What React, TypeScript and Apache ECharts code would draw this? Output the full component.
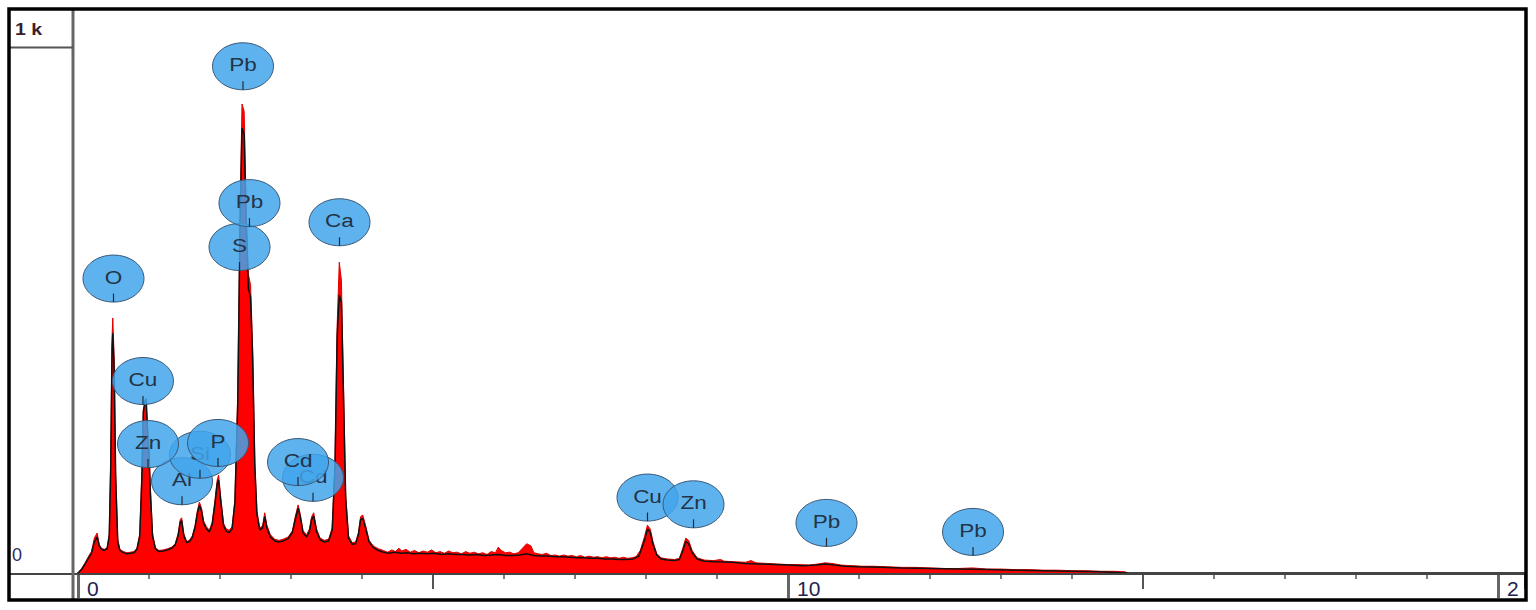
import React, { useEffect, useRef } from "react";
import * as echarts from "echarts";

// Spectrum (energy keV, counts) – red filled spectrum
const spectrum: number[][] = [
  [0.00,0],[0.05,8],[0.10,18],[0.15,30],[0.19,38],[0.23,62],[0.27,71],[0.30,50],[0.33,44],[0.37,42],[0.41,45],[0.44,70],[0.46,200],[0.48,420],[0.49,453],[0.51,380],[0.53,180],[0.56,60],[0.59,42],[0.64,38],[0.69,36],[0.74,37],[0.79,38],[0.83,44],[0.87,70],[0.90,180],[0.92,290],[0.94,298],[0.96,300],[0.98,260],[1.00,220],[1.02,150],[1.05,70],[1.09,45],[1.14,40],[1.20,41],[1.26,43],[1.32,46],[1.37,52],[1.41,70],[1.44,95],[1.46,98],[1.49,70],[1.53,56],[1.57,58],[1.61,66],[1.65,85],[1.68,110],[1.71,126],[1.74,115],[1.77,92],[1.81,82],[1.85,76],[1.89,90],[1.93,130],[1.96,165],[1.98,174],[2.01,135],[2.05,88],[2.09,78],[2.13,76],[2.17,82],[2.21,130],[2.25,320],[2.28,620],[2.31,833],[2.34,820],[2.37,640],[2.40,530],[2.43,512],[2.46,400],[2.49,200],[2.52,110],[2.56,80],[2.60,84],[2.63,107],[2.66,85],[2.71,68],[2.77,60],[2.83,58],[2.89,60],[2.96,64],[3.02,75],[3.06,100],[3.10,121],[3.13,105],[3.17,75],[3.22,68],[3.26,78],[3.29,100],[3.32,107],[3.36,78],[3.41,62],[3.47,58],[3.53,60],[3.58,80],[3.62,200],[3.65,440],[3.68,552],[3.71,520],[3.74,330],[3.77,140],[3.81,66],[3.86,54],[3.91,55],[3.95,72],[3.98,100],[4.01,103],[4.05,85],[4.10,58],[4.16,48],[4.23,43],[4.30,40],[4.36,37],[4.42,41],[4.47,38],[4.52,44],[4.56,39],[4.62,42],[4.68,37],[4.74,40],[4.80,36],[4.86,39],[4.92,37],[4.98,41],[5.04,36],[5.10,38],[5.16,35],[5.22,39],[5.28,36],[5.34,37],[5.40,34],[5.46,38],[5.52,35],[5.58,37],[5.64,34],[5.70,36],[5.76,33],[5.82,38],[5.88,36],[5.92,46],[5.96,40],[6.02,36],[6.08,37],[6.14,34],[6.20,36],[6.26,44],[6.32,52],[6.38,48],[6.42,36],[6.48,34],[6.54,33],[6.60,35],[6.66,31],[6.72,32],[6.78,30],[6.84,32],[6.90,30],[6.96,31],[7.02,29],[7.08,31],[7.14,28],[7.20,30],[7.26,28],[7.32,29],[7.38,27],[7.44,29],[7.50,27],[7.56,28],[7.62,26],[7.68,28],[7.74,26],[7.80,27],[7.86,29],[7.92,40],[7.98,65],[8.02,85],[8.06,78],[8.10,55],[8.15,35],[8.21,27],[8.30,25],[8.40,24],[8.47,26],[8.52,45],[8.56,62],[8.60,58],[8.65,40],[8.72,27],[8.82,23],[8.95,22],[9.05,24],[9.10,21],[9.25,20],[9.40,19],[9.48,22],[9.55,18],[9.70,17],[9.85,16],[10.00,15],[10.15,15],[10.30,14],[10.42,16],[10.52,18],[10.62,17],[10.75,14],[10.90,13],[11.05,12],[11.20,12],[11.40,11],[11.60,10],[11.80,10],[12.00,9],[12.20,8],[12.40,8],[12.60,9],[12.80,7],[13.00,7],[13.20,6],[13.40,6],[13.60,5],[13.80,5],[14.00,4],[14.20,4],[14.40,3],[14.60,3],[14.75,2],[14.78,0]
];

// Black outline trace (energy keV, counts)
const outline: number[][] = [
  [0.00,0],[0.05,6],[0.10,16],[0.15,27],[0.19,35],[0.23,55],[0.27,64],[0.30,48],[0.33,42],[0.37,40],[0.41,43],[0.44,65],[0.46,180],[0.48,400],[0.49,426],[0.51,360],[0.53,170],[0.56,55],[0.59,40],[0.64,36],[0.69,34],[0.74,35],[0.79,36],[0.83,42],[0.87,65],[0.90,170],[0.92,285],[0.94,305],[0.96,310],[0.98,250],[1.00,210],[1.02,140],[1.05,65],[1.09,43],[1.14,38],[1.20,39],[1.26,41],[1.32,44],[1.37,50],[1.41,66],[1.44,90],[1.46,93],[1.49,66],[1.53,54],[1.57,56],[1.61,63],[1.65,82],[1.68,105],[1.71,120],[1.74,110],[1.77,88],[1.81,78],[1.85,73],[1.89,86],[1.93,124],[1.96,158],[1.98,165],[2.01,128],[2.05,84],[2.09,74],[2.13,72],[2.17,78],[2.21,125],[2.25,300],[2.28,600],[2.31,790],[2.34,780],[2.37,610],[2.40,505],[2.43,490],[2.46,380],[2.49,190],[2.52,104],[2.56,76],[2.60,80],[2.63,100],[2.66,80],[2.71,64],[2.77,57],[2.83,55],[2.89,57],[2.96,61],[3.02,72],[3.06,95],[3.10,115],[3.13,100],[3.17,71],[3.22,64],[3.26,74],[3.29,95],[3.32,101],[3.36,74],[3.41,59],[3.47,55],[3.53,57],[3.58,76],[3.62,190],[3.65,420],[3.68,494],[3.71,480],[3.74,310],[3.77,132],[3.81,62],[3.86,51],[3.91,52],[3.95,68],[3.98,95],[4.01,97],[4.05,80],[4.10,55],[4.16,45],[4.23,40],[4.30,37],[4.38,35],[4.46,37],[4.55,35],[4.64,36],[4.72,34],[4.82,35],[4.92,34],[5.02,35],[5.12,33],[5.22,34],[5.32,33],[5.42,33],[5.52,32],[5.62,33],[5.72,31],[5.82,32],[5.92,33],[6.02,31],[6.12,31],[6.22,32],[6.32,34],[6.42,31],[6.52,30],[6.62,30],[6.72,29],[6.82,29],[6.92,28],[7.02,27],[7.12,27],[7.22,26],[7.32,26],[7.42,25],[7.52,25],[7.62,24],[7.72,24],[7.82,25],[7.90,30],[7.98,58],[8.02,78],[8.06,72],[8.10,50],[8.15,32],[8.21,25],[8.30,23],[8.40,22],[8.47,24],[8.52,40],[8.56,56],[8.60,52],[8.65,36],[8.72,25],[8.82,21],[9.00,20],[9.20,19],[9.40,17],[9.60,16],[9.80,15],[10.00,14],[10.20,13],[10.40,14],[10.52,16],[10.65,14],[10.80,12],[11.00,11],[11.30,10],[11.60,9],[12.00,8],[12.40,7],[12.80,6],[13.20,5],[13.60,4],[14.00,3],[14.40,2],[14.78,0]
];

// Element marker bubbles: name, energy (keV), bubble centre height (counts)
const labelNames = ["Al", "Si", "P", "Zn", "Cu", "O", "Cd", "Cd", "S", "Pb", "Pb", "Ca", "Cu", "Zn", "Pb", "Pb"];
const labelEnergies = [1.465, 1.718, 1.972, 0.986, 0.915, 0.50, 3.31, 3.099, 2.275, 2.415, 2.324, 3.683, 8.021, 8.669, 10.542, 12.606];
const labelHeights = [163, 210, 231, 229, 341, 523, 169, 197, 579, 657, 900, 623, 134, 122, 89, 73];

const xTickLabels = ["0", "10", "2"];
const yTopLabel = "1 k";
const yBottomLabel = "0";

export default function App() {
  const ref = useRef<HTMLDivElement>(null);
  useEffect(() => {
    if (!ref.current) return;
    const chart = echarts.init(ref.current, null, { renderer: "svg" });
    const font = "'Liberation Sans', Arial, sans-serif";
    const labelData = labelNames.map((n, i) => [labelEnergies[i], labelHeights[i]]);
    const baseX = { type: "value", min: 0, max: 20.38, position: "bottom", splitLine: { show: false } } as any;
    chart.setOption({
      animation: false,
      backgroundColor: "#ffffff",
      grid: { left: 78, right: 11, top: 10, bottom: 37 },
      xAxis: [
        {
          ...baseX,
          interval: 1,
          axisLine: { show: true, lineStyle: { color: "#444", width: 2 } },
          axisTick: { show: true, length: 6, lineStyle: { color: "#555", width: 1.5 } },
          axisLabel: { show: false },
        },
        {
          ...baseX,
          interval: 5,
          axisLine: { show: false },
          axisTick: { show: true, length: 16, lineStyle: { color: "#555", width: 2 } },
          axisLabel: { show: false },
        },
        {
          ...baseX,
          interval: 10,
          axisLine: { show: false },
          axisTick: { show: true, length: 25, lineStyle: { color: "#666", width: 3 } },
          axisLabel: {
            show: true,
            align: "left",
            margin: 5,
            padding: [0, 0, 0, 9],
            fontSize: 21,
            fontFamily: font,
            color: "#232350",
            showMaxLabel: false,
            formatter: (v: number) => {
              const idx = [0, 10, 20].indexOf(v);
              return idx >= 0 ? xTickLabels[idx] : "";
            },
          },
        },
      ],
      yAxis: { type: "value", min: 0, max: 1000, show: false },
      series: [
        {
          type: "line",
          xAxisIndex: 0,
          data: spectrum,
          symbol: "none",
          lineStyle: { color: "#e00000", width: 1 },
          areaStyle: { color: "#ff0000", opacity: 1 },
          z: 2,
        },
        {
          type: "line",
          xAxisIndex: 0,
          data: outline,
          symbol: "none",
          lineStyle: { color: "#111111", width: 1.5 },
          z: 3,
        },
        {
          type: "custom",
          xAxisIndex: 0,
          data: labelData,
          encode: { x: 0, y: 1 },
          clip: false,
          z: 5,
          renderItem: (params: any, api: any) => {
            const p = api.coord([api.value(0), api.value(1)]);
            const name = labelNames[params.dataIndex];
            return {
              type: "group",
              children: [
                {
                  type: "ellipse",
                  shape: { cx: p[0], cy: p[1], rx: 30.5, ry: 23.5 },
                  style: { fill: "rgba(66,165,235,0.85)", stroke: "#3b5876", lineWidth: 1 },
                },
                {
                  type: "line",
                  shape: { x1: p[0], y1: p[1] + 15, x2: p[0], y2: p[1] + 23.5 },
                  style: { stroke: "#1f2a38", lineWidth: 1.2 },
                },
                {
                  type: "text",
                  x: p[0],
                  y: p[1] - 1,
                  scaleX: 1.25,
                  style: {
                    text: name,
                    x: 0,
                    y: 0,
                    align: "center",
                    verticalAlign: "middle",
                    fontSize: 18,
                    fontFamily: font,
                    fill: "#233447",
                  },
                },
              ],
            };
          },
        },
      ],
      graphic: [
        { type: "line", z: 50, shape: { x1: 10, y1: 574, x2: 1525, y2: 574 }, style: { stroke: "#444", lineWidth: 2 } },
        { type: "line", z: 50, shape: { x1: 73, y1: 9, x2: 73, y2: 599 }, style: { stroke: "#666", lineWidth: 3 } },
        { type: "line", z: 50, shape: { x1: 10, y1: 47.5, x2: 73, y2: 47.5 }, style: { stroke: "#555", lineWidth: 2 } },
        {
          type: "text", z: 50, x: 15, y: 29, scaleX: 1.15,
          style: { text: yTopLabel, x: 0, y: 0, verticalAlign: "middle", fontSize: 17, fontWeight: "bold", fontFamily: font, fill: "#3b1e2b" },
        },
        {
          type: "text", z: 50, x: 12, y: 555,
          style: { text: yBottomLabel, x: 0, y: 0, verticalAlign: "middle", fontSize: 18, fontFamily: font, fill: "#2c2c5c" },
        },
        { type: "rect", z: 60, shape: { x: 9, y: 9, width: 1517, height: 591 }, style: { fill: "none", stroke: "#000", lineWidth: 3.5 } },
      ],
    });
    return () => chart.dispose();
  }, []);
  return <div ref={ref} style={{ position: "fixed", left: 0, top: 0, width: 1536, height: 610 }} />;
}
